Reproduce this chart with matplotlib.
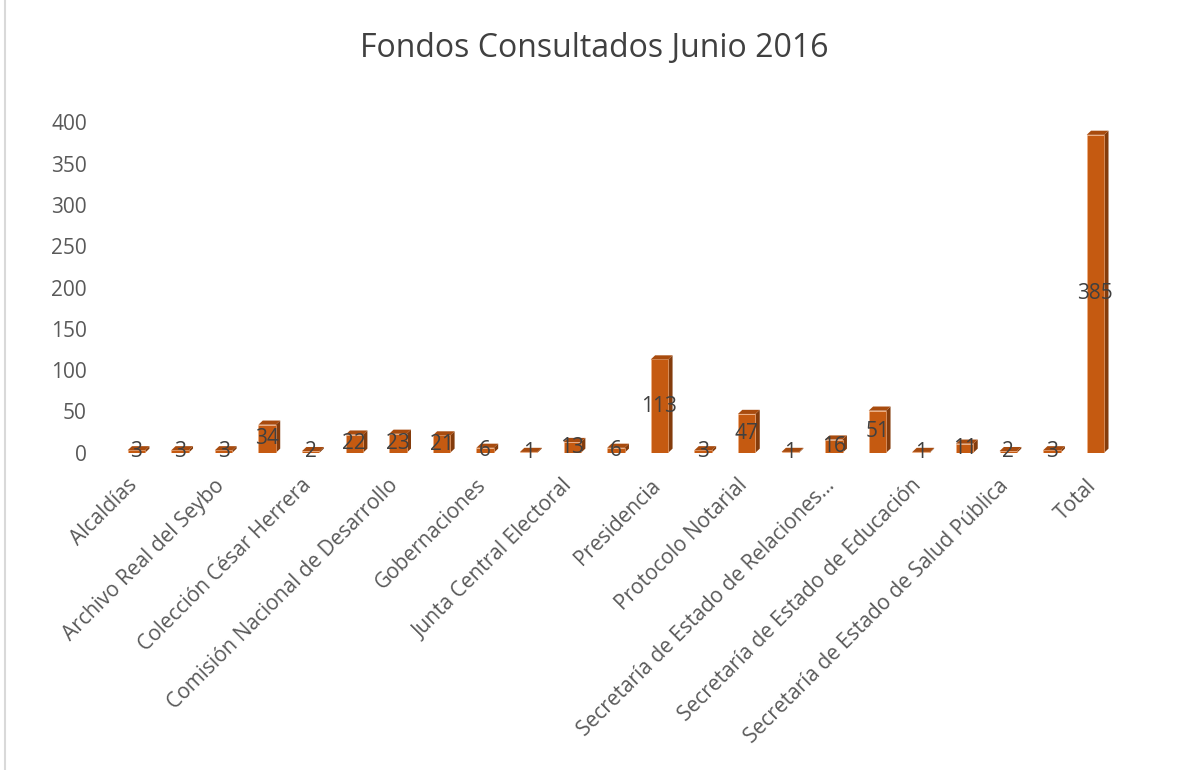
import matplotlib.pyplot as plt
from matplotlib.patches import Polygon, Rectangle
from matplotlib.transforms import ScaledTranslation

# data
values = [3, 3, 3, 34, 2, 22, 23, 21, 6, 1, 13, 6, 113, 3, 47, 1, 16, 51, 1, 11, 2, 3, 385]
shown_labels = ['Alcaldías', 'Archivo Real del Seybo', 'Colección César Herrera',
                'Comisión Nacional de Desarrollo', 'Gobernaciones', 'Junta Central Electoral',
                'Presidencia', 'Protocolo Notarial', 'Secretaría de Estado de Relaciones...',
                'Secretaría de Estado de Educación', 'Secretaría de Estado de Salud Pública', 'Total']
y_ticks = [0, 50, 100, 150, 200, 250, 300, 350, 400]

plt.rcParams['font.family'] = ['Open Sans', 'DejaVu Sans']

front = '#C55A11'
side = '#843C0C'
top = '#A84B0E'
txt = '#595959'

fig = plt.figure(figsize=(11.81, 7.70), dpi=100)
ax = fig.add_axes([0.097, 0.412, 0.849, 0.429])

x = list(range(len(values)))
w = 0.4
dx = 0.1   # depth offset in category units
dy = 5     # depth offset in data units
ax.bar(x, values, width=w, color=front, edgecolor='#F4B183', linewidth=0.4, zorder=2)
for xi, v in zip(x, values):
    l, r = xi - w / 2, xi + w / 2
    ax.add_patch(Polygon([(r, 0), (r + dx, dy), (r + dx, v + dy), (r, v)],
                         closed=True, facecolor=side, edgecolor='none', zorder=1))
    ax.add_patch(Polygon([(l, v), (l + dx, v + dy), (r + dx, v + dy), (r, v)],
                         closed=True, facecolor=top, edgecolor='none', zorder=3))
    ax.text(xi, v / 2, str(v), ha='center', va='center', fontsize=15, color='#404040', zorder=4)

ax.set_xlim(-0.5, len(values) - 0.5)
ax.set_ylim(0, 400)
ax.set_yticks(y_ticks)
ax.set_xticks(x[::2])
ax.set_xticklabels(shown_labels, rotation=45, ha='right', rotation_mode='anchor')
ax.tick_params(axis='y', length=0, pad=20, labelsize=15, labelcolor=txt)
ax.tick_params(axis='x', length=0, pad=16, labelsize=15, labelcolor=txt)
shift = ScaledTranslation(-10 / 100, 0, fig.dpi_scale_trans)
for lab in ax.get_xticklabels():
    lab.set_transform(lab.get_transform() + shift)
for s in ax.spines.values():
    s.set_visible(False)

fig.text(0.503, 0.937, 'Fondos Consultados Junio 2016', ha='center', va='center',
         fontsize=23, color='#404040')

# chart frame
fig.patches.append(Rectangle((0.004, -0.01), 1.2, 1.2, transform=fig.transFigure,
                             fill=False, edgecolor='#D9D9D9', linewidth=1.5))

fig.savefig('out.png', dpi=100)
